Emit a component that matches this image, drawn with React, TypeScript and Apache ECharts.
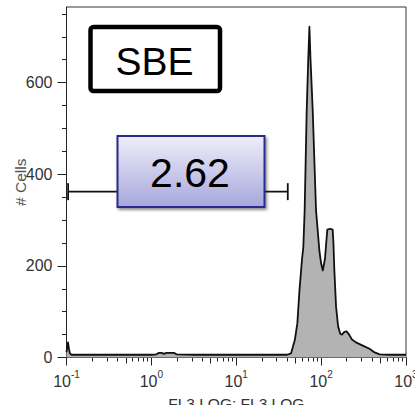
import React, { useEffect, useRef } from "react";
import * as echarts from "echarts";

// Histogram: x in log10(FL3 LOG) units, y = # Cells
const histLogX = [
  -1.0, -0.99, -0.982, -0.972, -0.96, -0.94, -0.5, 0.0, 0.06, 0.085, 0.12, 0.15, 0.175, 0.21, 0.27, 0.295,
  0.5, 1.0, 1.5, 1.6, 1.645, 1.69, 1.72, 1.745, 1.775, 1.79, 1.806, 1.83, 1.848, 1.862, 1.875, 1.901,
  1.94, 1.979, 2.0, 2.02, 2.045, 2.06, 2.073, 2.105, 2.136, 2.145, 2.156, 2.176, 2.2, 2.225, 2.245,
  2.274, 2.3, 2.33, 2.36, 2.41, 2.49, 2.57, 2.63, 2.69, 2.8, 3.0,
];
const histCount = [
  12, 25, 33, 20, 9, 6, 6, 6, 7, 10, 10, 8, 10, 10, 10, 7,
  6, 6, 6, 6, 9, 38, 75, 147, 215, 240, 321, 539, 650, 722, 650, 539,
  321, 234, 205, 190, 215, 250, 279, 281, 279, 250, 190, 111, 68, 52, 50,
  56, 57, 50, 40, 33, 26, 19, 11, 7, 6, 6,
];

const xDecades = [-1, 0, 1, 2, 3];
const minorFactors = [2, 3, 4, 6, 7, 8, 9];
const midFactors = [5];
const yMajorTicks = [0, 200, 400, 600];
const yMinorTicks = [50, 100, 150, 250, 300, 350, 450, 500, 550, 650, 700, 750];

const gateLogX = [-0.981, 1.607];
const gateCount = 362;
const gateValue = "2.62";
const sampleName = "SBE";
const xTitle = "FL3 LOG: FL3 LOG";
const yTitle = "# Cells";

const FONT = "'Liberation Sans', Arial, Helvetica, sans-serif";

export default function App() {
  const ref = useRef<HTMLDivElement>(null);
  useEffect(() => {
    document.body.style.margin = "0";
    const chart = echarts.init(ref.current!, null, { renderer: "svg" });
    const logsOf = (factors: number[]) => {
      const out: number[] = [];
      for (let d = -1; d < 3; d++) for (const f of factors) out.push(d + Math.log10(f));
      return out;
    };
    const axisColor = "#222";
    const tickAxis = (values: number[], length: number) => ({
      type: "value",
      min: -1,
      max: 3,
      position: "bottom",
      axisLine: { show: false, onZero: false },
      axisTick: { show: true, length, lineStyle: { color: axisColor, width: 1 }, customValues: values },
      axisLabel: { show: false },
      splitLine: { show: false },
    });
    chart.setOption({
      animation: false,
      textStyle: { fontFamily: FONT },
      grid: {
        left: 66.5,
        right: 9,
        top: 7,
        bottom: 47.5,
        outerBoundsMode: "none",
        containLabel: false,
        show: true,
        borderColor: "#333",
        borderWidth: 1,
        backgroundColor: "transparent",
      },
      xAxis: [
        {
          type: "value",
          min: -1,
          max: 3,
          interval: 1,
          position: "bottom",
          axisLine: { show: true, onZero: false, lineStyle: { color: axisColor, width: 1 } },
          axisTick: { show: true, length: 8, lineStyle: { color: axisColor, width: 1 }, customValues: xDecades },
          splitLine: { show: false },
          axisLabel: {
            margin: 12,
            customValues: xDecades,
            hideOverlap: false,
            formatter: (v: number) => `{b|10}{s|${v}}`,
            rich: {
              b: { fontSize: 16, color: "#333", fontFamily: FONT, padding: [4, 0, 0, 0], verticalAlign: "bottom" },
              s: { fontSize: 10, color: "#333", fontFamily: FONT, verticalAlign: "top" },
            },
          },
          name: xTitle,
          nameLocation: "middle",
          nameGap: 38,
          nameMoveOverlap: false,
          nameTextStyle: { fontSize: 15.5, color: "#333", fontFamily: FONT },
        },
        tickAxis(logsOf(minorFactors), 4),
        tickAxis(logsOf(midFactors), 6),
      ],
      yAxis: [
        {
          type: "value",
          min: 0,
          max: 765,
          position: "left",
          axisLine: { show: true, onZero: false, lineStyle: { color: axisColor, width: 1 } },
          axisTick: { show: true, length: 9, lineStyle: { color: axisColor, width: 1 }, customValues: yMajorTicks },
          axisLabel: { customValues: yMajorTicks, fontSize: 16, color: "#333", margin: 14, fontFamily: FONT },
          splitLine: { show: false },
          name: yTitle,
          nameLocation: "middle",
          nameGap: 38,
          nameMoveOverlap: false,
          nameTextStyle: { fontSize: 15.5, color: "#555", fontFamily: FONT },
        },
        {
          type: "value",
          min: 0,
          max: 765,
          position: "left",
          axisLine: { show: false, onZero: false },
          axisTick: { show: true, length: 4.5, lineStyle: { color: axisColor, width: 1 }, customValues: yMinorTicks },
          axisLabel: { show: false },
          splitLine: { show: false },
        },
      ],
      series: [
        {
          type: "line",
          xAxisIndex: 0,
          yAxisIndex: 0,
          data: histLogX.map((x, i) => [x, histCount[i]]),
          symbol: "none",
          smooth: false,
          lineStyle: { color: "#111", width: 1.8, join: "round" },
          areaStyle: { color: "#b3b3b3", opacity: 1 },
          silent: true,
          z: 2,
        },
        {
          type: "line",
          xAxisIndex: 0,
          yAxisIndex: 0,
          data: gateLogX.map((x) => [x, gateCount]),
          symbol: "rect",
          symbolSize: [1.8, 17],
          showSymbol: true,
          itemStyle: { color: "#111" },
          lineStyle: { color: "#111", width: 1.6 },
          silent: true,
          z: 3,
        },
      ],
      graphic: [
        {
          type: "rect",
          z: 100,
          shape: { x: 90.5, y: 27, width: 129.5, height: 64, r: 3 },
          style: { fill: "#fff", stroke: "#000", lineWidth: 4.5 },
        },
        {
          type: "text",
          z: 101,
          x: 154.5,
          y: 61.5,
          style: {
            text: sampleName,
            font: `39px ${FONT}`,
            fill: "#000",
            align: "center",
            verticalAlign: "middle",
          },
        },
        {
          type: "rect",
          z: 100,
          shape: { x: 117.5, y: 136, width: 147, height: 71 },
          style: {
            fill: new echarts.graphic.LinearGradient(0, 0, 0, 1, [
              { offset: 0, color: "#eeeefa" },
              { offset: 1, color: "#a7a7dc" },
            ]),
            stroke: "#2a2a8c",
            lineWidth: 2,
            shadowBlur: 3,
            shadowOffsetX: 1.5,
            shadowOffsetY: 2,
            shadowColor: "rgba(0,0,0,0.45)",
          },
        },
        {
          type: "text",
          z: 101,
          x: 190,
          y: 173,
          style: {
            text: gateValue,
            font: `41px ${FONT}`,
            fill: "#000",
            align: "center",
            verticalAlign: "middle",
          },
        },
      ],
    });
    return () => chart.dispose();
  }, []);
  return <div ref={ref} style={{ width: 415, height: 405 }} />;
}
